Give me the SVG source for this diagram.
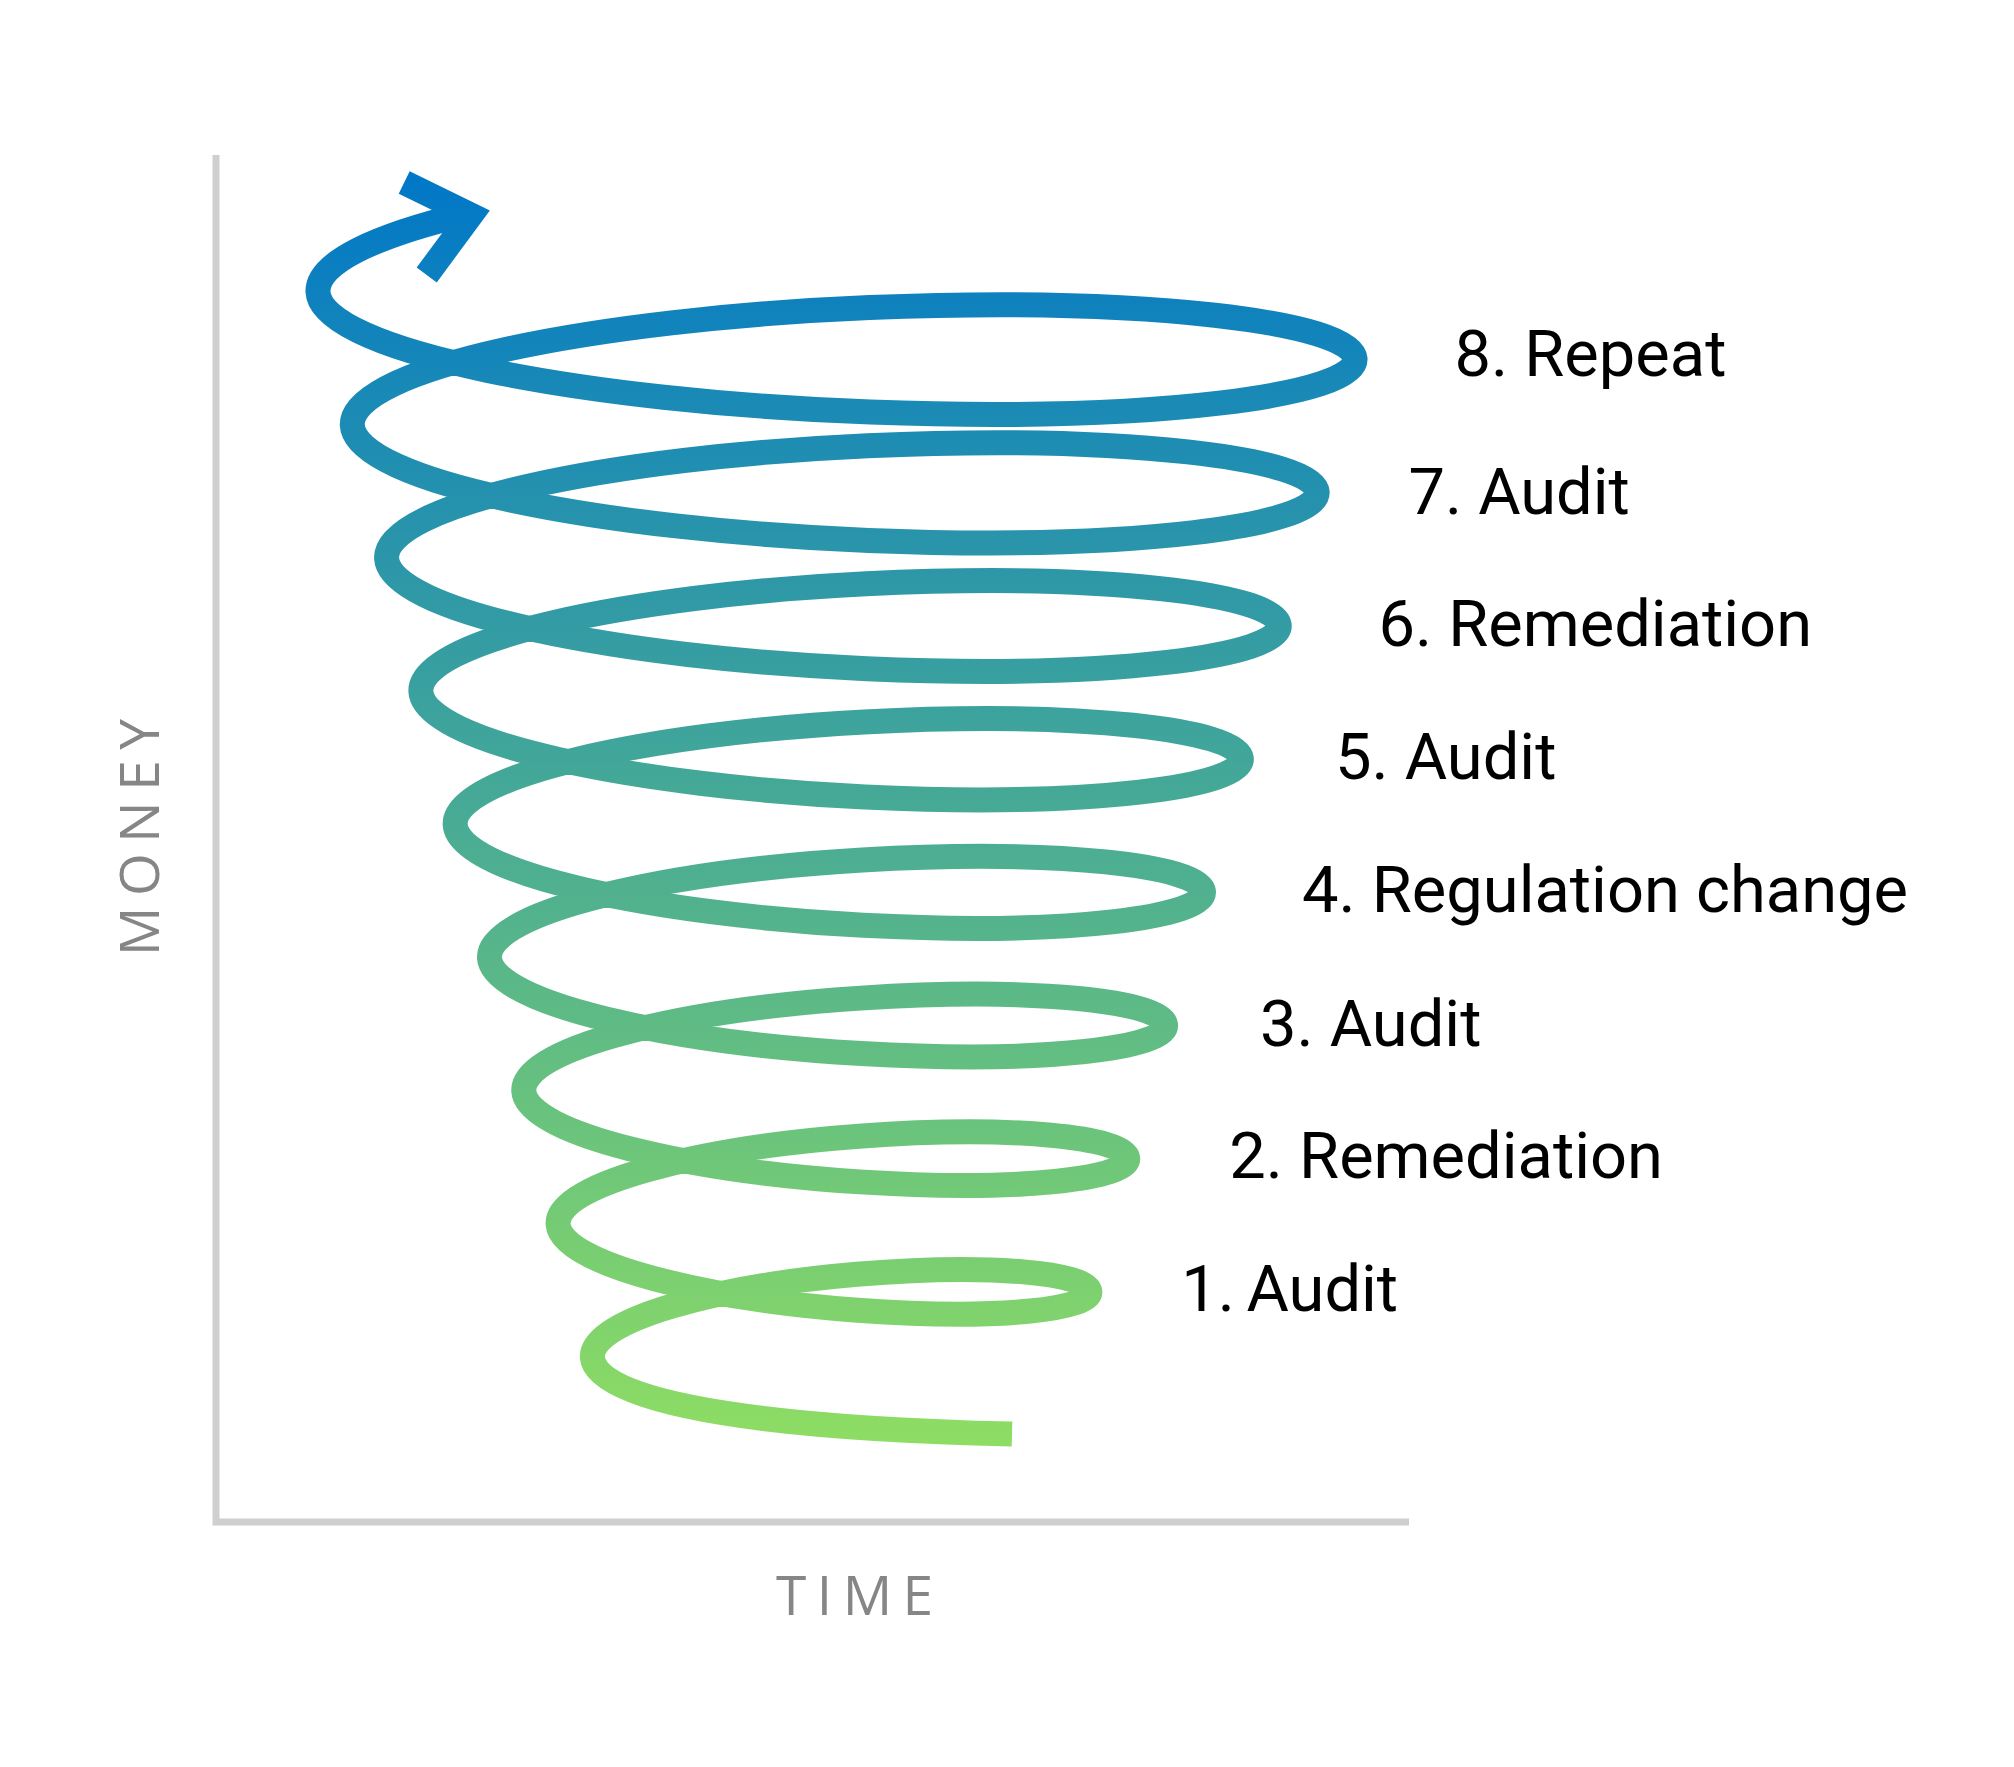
<svg xmlns="http://www.w3.org/2000/svg" width="2014" height="1767" viewBox="0 0 2014 1767">
<defs>
<linearGradient id="spiralGrad" gradientUnits="userSpaceOnUse" x1="0" y1="170" x2="0" y2="1445">
<stop offset="0" stop-color="#0077C8"/>
<stop offset="1" stop-color="#8EDD63"/>
</linearGradient>
<style>
.axis{fill:none;stroke:#CFCFCF;stroke-width:7;stroke-linejoin:miter}
.spiral{fill:none;stroke:url(#spiralGrad);stroke-width:25;stroke-linecap:butt;stroke-linejoin:round}
.head{fill:none;stroke:url(#spiralGrad);stroke-width:25;stroke-linecap:butt;stroke-linejoin:miter;stroke-miterlimit:10}
.lbl{font-family:Roboto,"Liberation Sans",sans-serif;font-size:65px;fill:#000}
.axlbl{font-family:"Open Sans","Liberation Sans",sans-serif;font-size:55px;fill:#868686;letter-spacing:10.5px}
</style>
</defs>
<rect width="2014" height="1767" fill="#FFFFFF"/>
<g id="axes">
<path class="axis" d="M216 155 V1522 H1409"/>
<text class="axlbl" x="776" y="1615">TIME</text>
<text class="axlbl" transform="translate(159,956) rotate(-90)" x="0" y="0">MONEY</text>
</g>
<g id="connectors">
<path id="spiral" class="spiral" d="M1012 1434 C880 1431 598 1418 592.4 1357.6
C589.5 1319.6 719.8 1285.8 857.0 1274.3
C994.2 1262.8 1086.5 1273.8 1089.7 1291.0
C1092.9 1308.2 1004.8 1320.8 857.9 1310.2
C711.0 1299.5 561.0 1265.1 558.1 1224.4
C555.2 1183.7 701.6 1147.7 858.8 1136.2
C1016.0 1124.7 1124.4 1137.9 1127.6 1157.8
C1130.8 1177.7 1026.5 1192.5 859.7 1181.9
C692.9 1171.2 526.7 1134.7 523.8 1091.2
C520.9 1047.8 683.5 1009.6 860.6 998.1
C1037.7 986.6 1162.3 1002.0 1165.5 1024.6
C1168.7 1047.2 1048.3 1064.2 861.5 1053.6
C674.7 1042.9 492.4 1004.2 489.5 958.0
C486.6 911.8 665.4 871.5 862.4 860.0
C1059.4 848.5 1200.2 866.1 1203.4 891.4
C1206.6 916.7 1070.0 935.9 863.3 925.3
C656.6 914.6 458.1 873.7 455.2 824.8
C452.3 775.9 647.2 733.4 864.2 721.9
C1081.2 710.4 1238.1 730.2 1241.3 758.2
C1244.5 786.2 1091.8 807.6 865.1 797.0
C638.4 786.3 423.8 743.2 420.9 691.6
C418.0 640.0 629.1 595.3 866.0 583.8
C1102.9 572.3 1276.0 594.3 1279.2 625.0
C1282.4 655.7 1113.5 679.3 866.9 668.7
C620.3 658.0 389.5 612.7 386.6 558.4
C383.7 504.1 610.9 457.2 867.8 445.7
C1124.7 434.2 1313.9 458.4 1317.1 491.8
C1320.3 525.2 1135.2 551.0 868.7 540.4
C602.2 529.7 355.2 482.2 352.3 425.2
C349.4 368.2 592.8 319.1 869.6 307.6
C1146.4 296.1 1351.8 322.5 1355.0 358.6
C1358.2 394.7 1157.0 422.7 870.5 412.1
C584.0 401.4 320.9 351.7 318.0 292.0
C316.6 263.1 373.7 236.1 468 213.5"/>
<polyline id="arrowhead" class="head" points="404.2,182.5 470.9,215.1 426.7,275"/>
</g>
<g id="label-8"><text class="lbl" x="1454.5" y="376">8. Repeat</text></g>
<g id="label-7"><text class="lbl" x="1408.4" y="514">7. Audit</text></g>
<g id="label-6"><text class="lbl" x="1378.4" y="645.5">6. Remediation</text></g>
<g id="label-5"><text class="lbl" x="1335" y="779">5. Audit</text></g>
<g id="label-4"><text class="lbl" x="1302" y="912">4. Regulation change</text></g>
<g id="label-3"><text class="lbl" x="1260" y="1045.5">3. Audit</text></g>
<g id="label-2"><text class="lbl" x="1229.3" y="1178">2. Remediation</text></g>
<g id="label-1"><text class="lbl" x="1181.3" y="1311">1.<tspan x="1246.5">Audit</tspan></text></g>
</svg>
